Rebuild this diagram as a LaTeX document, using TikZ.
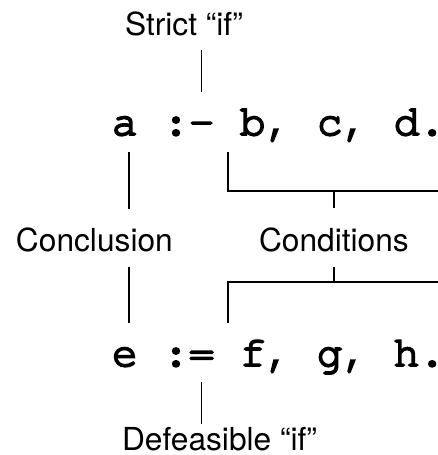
\documentclass[tikz,border=0pt]{standalone}
\usepackage{fontspec}
\setmainfont{TeX Gyre Heros}
\newfontfamily\codefont[FakeBold=4.5]{TeX Gyre Cursor}
\begin{document}
\begin{tikzpicture}[x=1pt,y=-1pt,
  lbl/.style={font=\fontsize{31.7}{36}\selectfont, inner sep=0pt, outer sep=0pt, anchor=base west, text height=23pt, text depth=0pt},
  code/.style={font=\codefont\fontsize{42.7}{48}\selectfont, inner sep=0pt, outer sep=0pt, anchor=base west, text height=23pt, text depth=0pt},
  conn/.style={line width=1.6pt}]
\useasboundingbox (0,0) rectangle (438,455);
% labels
\node[lbl] (strict) at (125,35) {Strict “if”};
\node[lbl] (concl) at (16,251) {Conclusion};
\node[lbl] (cond) at (259,251) {Conditions};
\node[lbl] (def) at (122,450) {Defeasible “if”};
% line 1
\node[code] (a) at (112,135) {a};
\node[code] (col1) at (163.2,135) {:};
\node[code] (dash) at (188.8,135) {-};
\node[code] (b1) at (240,135) {b, c, d.};
% line 2
\node[code] (e) at (112,366) {e};
\node[code] (col2) at (163.2,366) {:};
\node[code] (eq) at (188.8,366) {=};
\node[code] (b2) at (240,366) {f, g, h.};
% free ends at the right border
\coordinate (r1) at (438,191);
\coordinate (r2) at (438,282);
\coordinate (bl1) at ([xshift=-12pt,yshift=-17pt]b1.south west);
\coordinate (bl2) at ([xshift=-12pt,yshift=20pt]b2.north west);
\coordinate (ax1) at ([xshift=4pt]a.south);
\coordinate (ax2) at ([xshift=4pt]e.north);
% connectors
\draw[conn, shorten <=15pt, shorten >=20pt] (strict.south -| dash.south) -- (dash.north);
\draw[conn, shorten <=17pt, shorten >=19pt] (ax1) -- (ax1 |- concl.north);
\draw[conn, shorten <=16pt, shorten >=20pt] (ax2 |- concl.south) -- (ax2);
\draw[conn] (bl1) -- (bl1 |- r1) -- (r1);
\draw[conn, shorten <=20pt] (cond.north) -- (cond.north |- r1);
\draw[conn, shorten <=16pt] (cond.south) -- (cond.south |- r2);
\draw[conn] (r2) -- (bl2 |- r2) -- (bl2);
\draw[conn, shorten <=16pt, shorten >=3pt] (eq.south) -- (eq.south |- def.north);
\end{tikzpicture}
\end{document}
